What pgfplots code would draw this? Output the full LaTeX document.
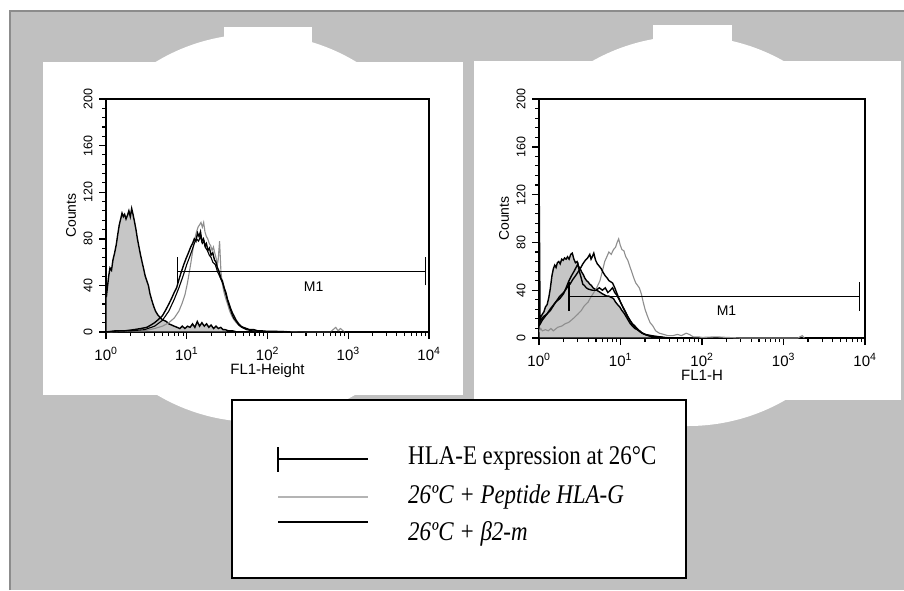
\documentclass[border=0pt]{standalone}
\usepackage{pgfplots}
\pgfplotsset{compat=1.18}
\usepackage{fontspec}
\setmainfont{Liberation Serif}
\newfontfamily\arial{Liberation Sans}
\newfontfamily\legfont[FakeStretch=0.85]{Liberation Serif}
\definecolor{bggray}{HTML}{C0C0C0}
\definecolor{bordergray}{HTML}{8C8C8C}
\definecolor{fillgray}{HTML}{C6C6C6}
\definecolor{pepgray}{HTML}{8E8E8E}
\definecolor{leggray}{HTML}{B4B4B4}

\pgfplotsset{facs/.style={
  scale only axis, xmin=1, xmax=10000, ymin=0, ymax=200,
  axis line style={line width=2pt},
  tick align=outside, xtick pos=left, ytick pos=left,
  xtick={1,10,100,1000,10000},
  xticklabels={10\textsuperscript{0},10\textsuperscript{1},10\textsuperscript{2},10\textsuperscript{3},10\textsuperscript{4}},
  ytick={0,40,80,120,160,200},
  yticklabels={0,40,80,120,160,200},
  minor y tick num=4,
  major tick length=7pt, minor tick length=4pt,
  every tick/.append style={black, line width=1.4pt},
  every minor tick/.append style={black, line width=1.1pt},
  xticklabel style={font=\arial\fontsize{15}{15}\selectfont, anchor=base, yshift=-21pt},
  yticklabel style={font=\arial\fontsize{12.5}{12.5}\selectfont, xshift=-3pt, rotate=90, anchor=south},
  every axis x label/.style={at={(axis description cs:0.5,0)}, anchor=base, yshift=-42pt, font=\arial\fontsize{15}{15}\selectfont},
  every axis y label/.style={at={(axis description cs:0,0.5)}, xshift=-35pt, rotate=90, anchor=center, font=\arial\fontsize{14}{14}\selectfont},
  ylabel={Counts},
}}

\begin{document}
\begin{tikzpicture}
\useasboundingbox (0pt,0pt) rectangle (904pt,-590pt);
\begin{scope}[x=1pt,y=-1pt]
  \fill[white] (0,0) rectangle (904,590);
  \fill[bggray] (9,10) rectangle (904,590);
  \draw[bordergray, line width=1.5pt] (9.75,590) -- (9.75,10.75) -- (904,10.75);
  % left panel
  \fill[white] (256,228) circle (194);
  \fill[white] (224,27) rectangle (312,62);
  \fill[white] (43,62) rectangle (463,395);
  % right panel
  \fill[white] (688,231) circle (195);
  \fill[white] (653,25) rectangle (732,61);
  \fill[white] (474,61) rectangle (901,400);
\end{scope}

% ---------------- left histogram ----------------
\begin{axis}[xmode=log, facs, at={(106pt,-332pt)}, anchor=south west, width=323pt, height=233pt,
  xlabel={FL1-Height}]
\addplot[draw=black, line width=1.4pt, fill=fillgray] coordinates {
(1,0) (1,115) (1.01,30) (1.04,38) (1.08,48) (1.12,55) (1.17,53) (1.22,62) (1.28,68) (1.34,75)
(1.40,84) (1.46,92) (1.52,97) (1.58,102) (1.64,99) (1.70,101) (1.77,97) (1.84,100) (1.92,104)
(2.0,99) (2.08,106) (2.16,101) (2.25,95) (2.35,88) (2.45,80) (2.56,73) (2.68,66) (2.8,60)
(2.93,54) (3.06,48) (3.2,44) (3.35,40) (3.5,33) (3.7,27) (3.9,22) (4.1,18) (4.35,15) (4.6,13)
(4.9,11) (5.2,10) (5.6,9) (6.0,7) (6.5,6) (7.0,5) (7.6,4) (8.2,3) (8.8,5) (9.5,3) (10.2,5)
(11,4) (11.8,7) (12.6,4) (13.5,9) (14.4,5) (15.4,8) (16.5,5) (17.6,7) (18.8,4) (20,6) (21.5,3)
(23,5) (24.6,3) (26.3,4) (28.2,2) (30,2) (33,1) (37,1) (42,0) (60,0)} \closedcycle;
\addplot[pepgray, line width=1.1pt] coordinates {
(1,0) (2,1) (3,1) (4,3) (5,5) (6,8) (7,12) (8,18) (8.8,25) (9.5,32) (10.2,42) (10.8,52)
(11.4,62) (12,72) (12.6,80) (13.2,86) (13.8,90) (14.4,92) (15,94) (15.6,90) (16.2,94)
(16.8,86) (17.5,82) (18.2,80) (19,76) (19.8,74) (20.6,70) (21.4,73) (22.2,68) (23,64)
(24,58) (24.5,62) (25.5,78) (26.5,52) (27.5,42) (28.5,36) (30,30) (32,24) (34,18) (36,14)
(38,11) (41,8) (44,6) (48,4) (53,3) (60,2) (70,1) (80,1) (100,0.5) (150,0.5) (300,0)
(600,0) (700,4) (750,1) (800,3) (900,0)};
\addplot[black, line width=1.4pt] coordinates {
(1,0) (1.3,1) (1.7,1) (2.2,2) (2.7,3) (3.2,4) (3.6,6) (4.0,8) (4.5,11) (5.0,14) (5.5,19)
(6.0,24) (6.5,29) (7.0,34) (7.5,38) (8.0,45) (8.6,52) (9.2,58) (9.8,63) (10.5,68) (11.2,73)
(11.8,76) (12.4,80) (13.0,78) (13.6,85) (14.2,82) (14.8,86) (15.4,78) (16.1,80) (16.8,74)
(17.5,76) (18.3,70) (19.1,72) (20,66) (21,68) (22,62) (23,60) (24,55) (25.2,52) (26.4,46)
(27.6,44) (29,38) (30.5,34) (32,28) (33.5,24) (35,20) (37,16) (39,13) (41,10) (44,7) (47,5)
(50,4) (55,3) (60,2) (68,2) (76,1) (85,1) (100,0.5) (130,0.5) (200,0) (1200,0)};
\addplot[black, line width=1.1pt] coordinates {
(1,0) (1.5,1) (2,1) (3,2) (4,5) (5,10) (6,18) (7,28) (8,38) (9,48) (10,58) (10.8,64)
(11.6,70) (12.4,76) (13.2,80) (14,78) (14.8,82) (15.6,76) (16.4,78) (17.2,72) (18,70)
(19,66) (20,64) (21,60) (22.5,58) (24,52) (25.5,48) (27,44) (28.5,40) (30,34) (32,27)
(34,21) (36,16) (38,12) (41,9) (44,6) (48,4) (55,2) (65,1) (80,0.5) (120,0)};
\addplot[black, line width=1.3pt] coordinates {(7.66,52) (9000,52)};
\addplot[black, line width=1.3pt] coordinates {(7.66,40) (7.66,64)};
\addplot[black, line width=1.3pt] coordinates {(9000,40) (9000,64)};
\node[font=\arial\fontsize{14}{14}\selectfont] at (axis cs:372,39) {M1};
\end{axis}

% ---------------- right histogram ----------------
\begin{axis}[xmode=log, facs, at={(539pt,-338pt)}, anchor=south west, width=326pt, height=239pt,
  xlabel={FL1-H}]
\addplot[draw=black, line width=1.4pt, fill=fillgray] coordinates {
(1,0) (1,146) (1.015,82) (1.03,15) (1.06,18) (1.10,20) (1.15,22) (1.2,26) (1.26,28) (1.32,34)
(1.38,42) (1.44,52) (1.50,58) (1.56,61) (1.62,59) (1.68,63) (1.75,64) (1.82,62) (1.90,66)
(1.98,65) (2.06,67) (2.15,66) (2.24,68) (2.34,66) (2.45,70) (2.56,71) (2.68,66) (2.8,63)
(2.93,64) (3.06,60) (3.2,58) (3.35,55) (3.5,53) (3.66,50) (3.83,48) (4.0,47) (4.2,45)
(4.4,44) (4.6,42) (4.85,41) (5.1,40) (5.4,39) (5.7,38) (6.0,37) (6.4,36) (6.8,35) (7.2,35)
(7.7,34) (8.2,33) (8.7,30) (9.2,28) (9.8,26) (10.4,23) (11,21) (11.7,18) (12.4,15) (13.2,12)
(14,10) (15,8) (16,7) (17.2,6) (18.5,4) (20,3) (22,2) (25,1) (30,1) (35,0)} \closedcycle;
\addplot[pepgray, line width=1.1pt] coordinates {
(1,5) (1.05,8) (1.1,6) (1.2,7) (1.3,6) (1.4,8) (1.5,6) (1.7,9) (1.9,10) (2.1,12) (2.3,13)
(2.5,15) (2.7,17) (3.0,20) (3.3,23) (3.6,27) (4.0,30) (4.3,34) (4.7,38) (5.1,42) (5.6,48)
(6.0,56) (6.4,64) (6.8,68) (7.2,72) (7.7,70) (8.2,74) (8.7,76) (9.1,80) (9.5,83) (9.9,78)
(10.4,74) (11,73) (11.6,68) (12.3,65) (13,60) (13.8,55) (14.6,50) (15.4,46) (16.2,44)
(17,42) (18,37) (19,30) (20,24) (21.5,18) (23,13) (25,10) (27,6) (30,4) (34,3) (38,2)
(44,2) (50,3) (56,2) (64,4) (70,3) (78,1) (90,1) (100,0.5) (150,1) (200,0.5) (300,0)
(1500,0) (1700,2) (1800,0)};
\addplot[black, line width=1.4pt] coordinates {
(1,12) (1.05,15) (1.14,18) (1.25,20) (1.38,23) (1.6,30) (1.8,33) (2.0,37) (2.15,42) (2.3,47)
(2.5,52) (2.7,56) (2.9,60) (3.0,62) (3.15,55) (3.3,50) (3.45,45) (3.6,44) (3.8,42) (4.0,41)
(4.5,40) (5.0,40) (5.5,42) (6.0,40) (6.5,42) (7.0,38) (7.5,40) (8.0,42) (8.5,38) (9.0,36)
(9.5,33) (10,30) (10.7,26) (11.5,22) (12.2,18) (13,15) (14,12) (15,10) (16,8) (17,6)
(18.5,4) (20,3) (22,2) (25,1) (30,1) (35,0)};
\addplot[black, line width=1.4pt] coordinates {
(1,10) (1.1,15) (1.25,20) (1.4,25) (1.6,30) (1.8,35) (2.0,38) (2.1,40) (2.25,43) (2.4,45)
(2.6,49) (2.8,52) (3.0,55) (3.2,58) (3.45,62) (3.7,65) (3.95,67) (4.2,70) (4.35,66)
(4.5,68) (4.7,71) (4.95,65) (5.2,62) (5.5,60) (5.8,58) (6.1,55) (6.5,52) (6.9,50) (7.2,48)
(7.6,47) (8.0,46) (8.5,42) (9.2,36) (10,30) (11,24) (12.3,18) (13.8,12) (15.5,8) (17.5,5)
(20,3) (24,2) (30,1) (40,0) (60,0)};
\addplot[black, line width=1.3pt] coordinates {(2.33,35) (8500,35)};
\addplot[black, line width=1.3pt] coordinates {(2.33,23) (2.33,47)};
\addplot[black, line width=1.3pt] coordinates {(8500,23) (8500,47)};
\node[font=\arial\fontsize{14}{14}\selectfont] at (axis cs:200,23) {M1};
\end{axis}

% ---------------- legend box ----------------
\begin{scope}[x=1pt,y=-1pt]
  \draw[black, line width=1.5pt, fill=white] (232,400) rectangle (686,578);
  \draw[black, line width=1.2pt] (278,459) -- (368,459);
  \draw[black, line width=1.2pt] (278,447) -- (278,472);
  \draw[leggray, line width=1.2pt] (278,497) -- (368,497);
  \draw[black, line width=1.5pt] (278,522) -- (368,522);
  \node[anchor=base west, inner sep=0pt, font=\legfont\fontsize{27}{27}\selectfont] at (408,464) {HLA-E expression at 26°C};
  \node[anchor=base west, inner sep=0pt, font=\legfont\itshape\fontsize{27}{27}\selectfont] at (408,503) {26ºC + Peptide HLA-G};
  \node[anchor=base west, inner sep=0pt, font=\legfont\itshape\fontsize{27}{27}\selectfont] at (408,540) {26ºC + β2-m};
\end{scope}
\end{tikzpicture}
\end{document}
